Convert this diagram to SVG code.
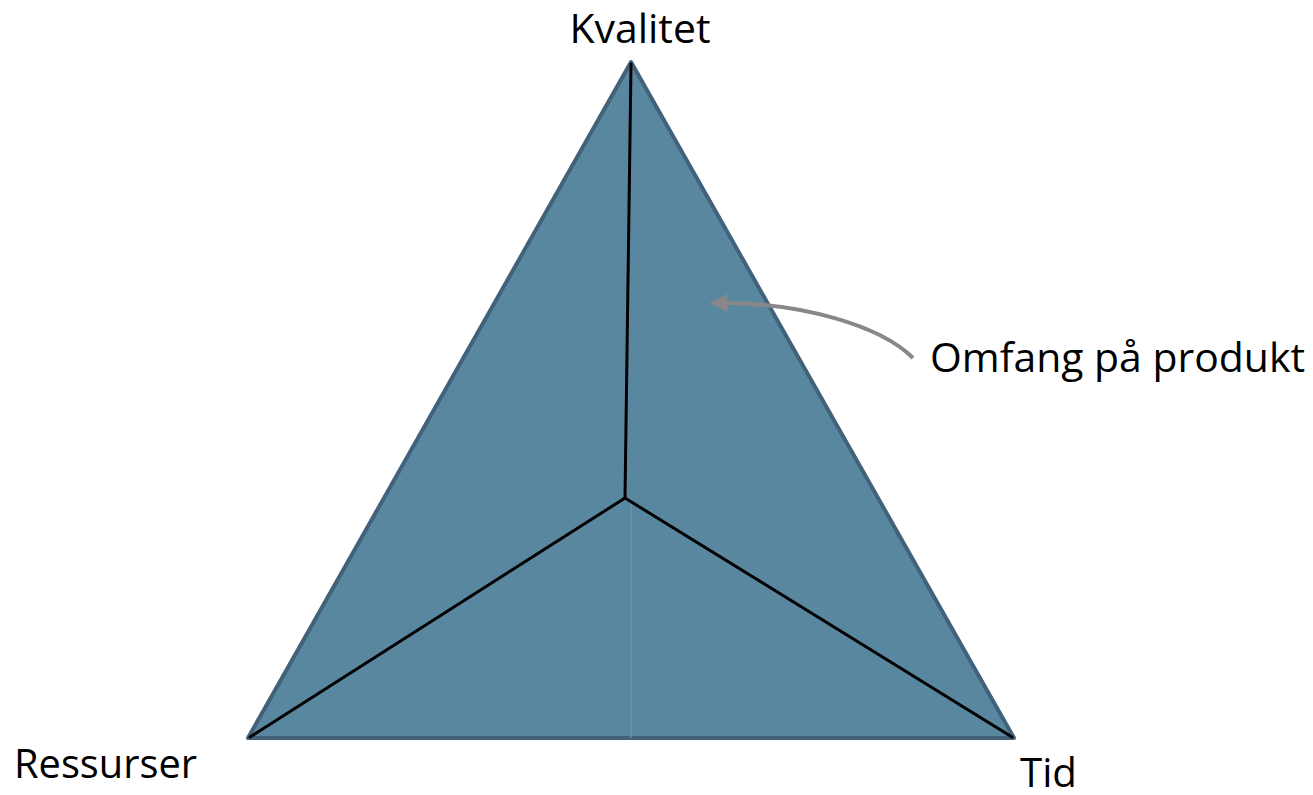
<svg xmlns="http://www.w3.org/2000/svg" width="1313" height="795" viewBox="0 0 1313 795">
<defs>
<style>
.lbl{font-family:"Open Sans","Liberation Sans",sans-serif;font-size:40px;fill:#000}
.edge{stroke:#000;stroke-width:3;fill:none;stroke-linecap:round}
</style>
<marker id="ah" viewBox="0 0 10 10" refX="2" refY="5" markerWidth="4.5" markerHeight="4.5" orient="auto-start-reverse">
<path d="M0,0 L10,5 L0,10 z" fill="#888"/>
</marker>
</defs>
<rect width="1313" height="795" fill="#fff"/>
<g id="pyramid">
<polygon points="631,62 248,738 1014,738" fill="#5a87a0" stroke="#41627a" stroke-width="4" stroke-linejoin="round"/>
<line x1="631" y1="498" x2="631" y2="738" stroke="#6a93ab" stroke-width="1.5"/>
</g>
<g id="connectors">
<line class="edge" x1="631" y1="64" x2="625" y2="498"/>
<line class="edge" x1="250" y1="737" x2="625" y2="498"/>
<line class="edge" x1="1012" y1="737" x2="625" y2="498"/>
<path d="M913,358 C880,325 800,303 724,303" fill="none" stroke="#888" stroke-width="4" marker-end="url(#ah)"/>
</g>
<g id="label-kvalitet"><text class="lbl" x="640" y="43" text-anchor="middle" textLength="141" lengthAdjust="spacingAndGlyphs">Kvalitet</text></g>
<g id="label-omfang"><text class="lbl" x="930" y="372" textLength="375" lengthAdjust="spacingAndGlyphs">Omfang på produkt</text></g>
<g id="label-ressurser"><text class="lbl" x="14" y="778" textLength="183" lengthAdjust="spacingAndGlyphs">Ressurser</text></g>
<g id="label-tid"><text class="lbl" x="1020" y="787" textLength="57" lengthAdjust="spacingAndGlyphs">Tid</text></g>
</svg>
